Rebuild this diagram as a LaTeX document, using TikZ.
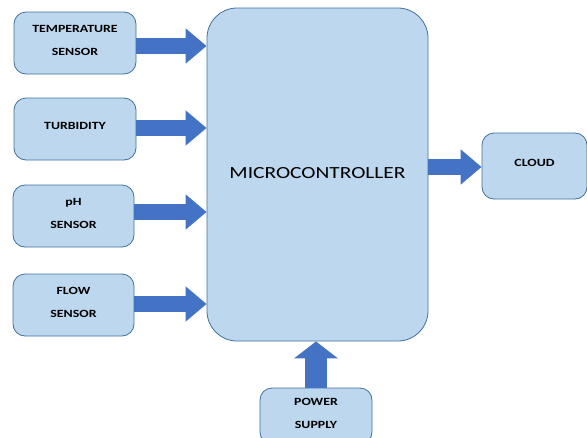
\documentclass[tikz,border=0pt]{standalone}
\usepackage{fontspec}
\setmainfont{Carlito}
\newfontfamily\lblfont[FakeStretch=1.26]{Carlito}
\usetikzlibrary{arrows.meta}
\definecolor{boxfill}{HTML}{BDD7EE}
\definecolor{boxline}{HTML}{41719C}
\definecolor{arrowblue}{HTML}{4472C4}
\tikzstyle{bx}=[rectangle,rounded corners=12pt,draw=boxline,fill=boxfill,line width=.8pt,align=center,text depth=6pt,font=\lblfont\bfseries\fontsize{11}{23}\selectfont]
\tikzstyle{fat}=[draw=arrowblue,line width=16pt,-{Triangle[width=34pt,length=21pt]}]
\begin{document}
\begin{tikzpicture}[x=1pt,y=-1pt]
\useasboundingbox (0,0) rectangle (587,437);
\node[bx,minimum width=122pt,minimum height=62pt] (temp) at (75,43) {TEMPERATURE\\SENSOR};
\node[bx,minimum width=122pt,minimum height=62pt] (turb) at (75,129) {TURBIDITY};
\node[bx,minimum width=121pt,minimum height=62pt] (ph) at (73.5,216) {pH\\SENSOR};
\node[bx,minimum width=121pt,minimum height=62pt] (flow) at (73.5,305) {FLOW\\SENSOR};
\node[bx,rounded corners=30pt,minimum width=221pt,minimum height=333pt,text depth=4pt,font=\lblfont\fontsize{17}{20}\selectfont] (mcu) at (317.5,174.5) {MICROCONTROLLER};
\node[bx,minimum width=105pt,minimum height=66pt] (cloud) at (534.5,166) {CLOUD};
\node[bx,minimum width=112pt,minimum height=56pt] (power) at (316,416) {POWER\\SUPPLY};
\draw[fat] ([yshift=-3pt]temp.east) -- ([yshift=-3pt]temp.east -| mcu.west);
\draw[fat] ([yshift=1pt]turb.east) -- ([yshift=1pt]turb.east -| mcu.west);
\draw[fat] ([yshift=4pt]ph.east) -- ([yshift=4pt]ph.east -| mcu.west);
\draw[fat] ([yshift=1pt]flow.east) -- ([yshift=1pt]flow.east -| mcu.west);
\draw[fat] ([yshift=-1pt]cloud.west -| mcu.east) -- ([yshift=-1pt]cloud.west);
\draw[fat,line width=22pt,-{Triangle[width=43pt,length=17pt]}] (power.north) -- (power.north |- mcu.south);
\end{tikzpicture}
\end{document}
